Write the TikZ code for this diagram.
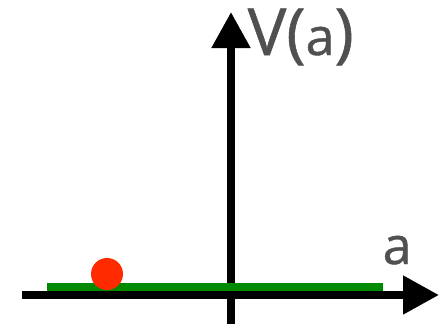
\documentclass[tikz,border=0pt]{standalone}
\usepackage{fontspec}
\setmainfont{Open Sans}[FakeBold=0.8]
\usetikzlibrary{arrows.meta}
\definecolor{lblgray}{HTML}{505050}
\definecolor{barGreen}{HTML}{008A00}
\definecolor{ballRed}{HTML}{FF2A00}
\newcommand{\bigf}{\fontsize{65}{65}\selectfont}
\newcommand{\smallf}{\fontsize{52}{52}\selectfont}
\tikzset{
  axisline/.style={line width=8pt, -{Triangle[length=36pt,width=37pt]}},
  plainline/.style={line width=8pt},
  lbl/.style={inner sep=0pt, text=lblgray},
}
\begin{document}
\begin{tikzpicture}[x=1pt,y=-1pt]
\useasboundingbox (0,0) rectangle (447,324);
\coordinate (vbot) at (231,324);
\coordinate (vtop) at (231,12);
\coordinate (hleft) at (22,295);
\coordinate (hright) at (439,295);
\coordinate (gleft) at (47,287);
\coordinate (gright) at (383,287);
\draw[axisline] (vbot) -- (vtop);
\draw[axisline] (hleft) -- (hright);
\draw[plainline, barGreen] (gleft) -- (gright);
\fill[ballRed] (107,274) circle (16) coordinate (ball);
\node[lbl, anchor=base west] (vlab) at (247.5,55) {{\bigf V(}{\smallf a}{\bigf )}};
\node[lbl, anchor=base west, font=\smallf] (alab) at (382.5,264) {a};
\end{tikzpicture}
\end{document}
